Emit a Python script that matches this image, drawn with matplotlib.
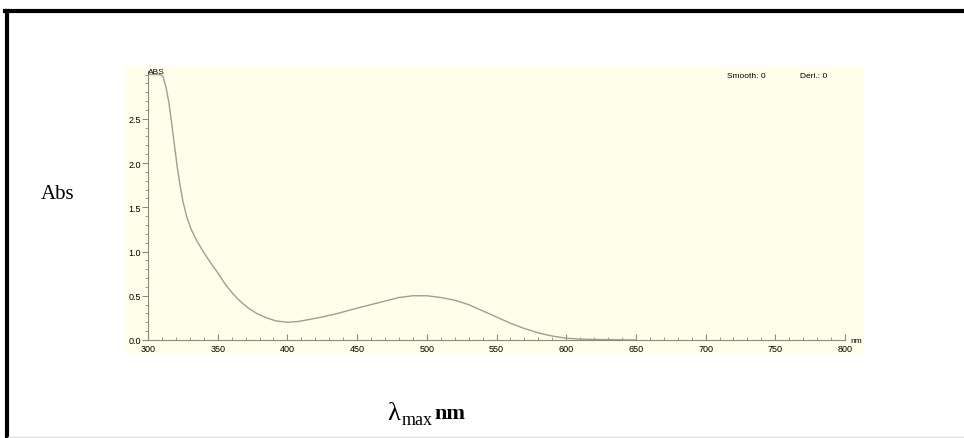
import matplotlib.pyplot as plt
from matplotlib.patches import Rectangle
from matplotlib.lines import Line2D
from matplotlib.ticker import MultipleLocator

# spectrum
wavelength = [300, 305, 309, 311, 313, 315, 317, 319, 321, 323, 325, 328, 331,
              335, 340, 345, 350, 355, 361, 366, 372, 378, 385, 392, 400, 408,
              415, 425, 436, 450, 460, 470, 480, 490, 500, 510, 520, 530, 540,
              550, 560, 570, 580, 590, 600, 610, 625, 650]
absorbance = [3.0, 3.0, 3.0, 2.97, 2.85, 2.68, 2.45, 2.2, 1.95, 1.75, 1.57,
              1.38, 1.25, 1.12, 0.99, 0.87, 0.76, 0.64, 0.52, 0.44, 0.36, 0.3,
              0.25, 0.215, 0.2, 0.21, 0.23, 0.26, 0.3, 0.36, 0.4, 0.44, 0.48,
              0.5, 0.5, 0.48, 0.45, 0.4, 0.33, 0.26, 0.19, 0.13, 0.08, 0.045,
              0.02, 0.01, 0.005, 0.0]
x_ticks = [300, 350, 400, 450, 500, 550, 600, 650, 700, 750, 800]
y_ticks = [0.0, 0.5, 1.0, 1.5, 2.0, 2.5]

W, H = 964, 439
fig = plt.figure(figsize=(W / 100, H / 100), dpi=100)


def fx(px):
    return px / W


def fy(py):
    return 1 - py / H


# outer frame (open at right/bottom like the cropped original)
fig.add_artist(Line2D([fx(6.5), fx(6.5)], [fy(12), fy(439)], color="black", lw=3,
                      transform=fig.transFigure))
fig.add_artist(Line2D([fx(5), fx(964)], [fy(12), fy(12)], color="black", lw=3,
                      transform=fig.transFigure))
fig.add_artist(Line2D([fx(8), fx(964)], [fy(437.5), fy(437.5)], color="#dddddd",
                      lw=1, transform=fig.transFigure))

# pale yellow instrument background
fig.add_artist(Rectangle((fx(126), fy(355)), fx(864 - 126), (355 - 68) / H,
                         facecolor="#fffeea", edgecolor="none",
                         transform=fig.transFigure, zorder=0))

ax = fig.add_axes([fx(148), fy(341), fx(845 - 148), (341 - 72) / H])
ax.patch.set_alpha(0)
ax.plot(wavelength, absorbance, color="#a09e94", lw=1.0)
ax.set_xlim(300, 800)
ax.set_ylim(0, 3.04)

for s in ["top", "right"]:
    ax.spines[s].set_visible(False)
for s in ["left", "bottom"]:
    ax.spines[s].set_color("#8a8a80")
    ax.spines[s].set_linewidth(0.8)

ax.set_xticks(x_ticks)
ax.set_yticks(y_ticks)
ax.set_xticklabels([str(v) for v in x_ticks])
ax.set_yticklabels([f"{v:.1f}" for v in y_ticks])
ax.xaxis.set_minor_locator(MultipleLocator(10))
ax.yaxis.set_minor_locator(MultipleLocator(0.1))
ax.tick_params(axis="x", which="major", direction="in", length=4, color="#8a8a80",
               labelsize=6.5, pad=3)
ax.tick_params(axis="x", which="minor", direction="in", length=2, color="#8a8a80")
ax.tick_params(axis="y", which="major", direction="out", length=4, color="#8a8a80",
               labelsize=6.5, pad=1)
ax.tick_params(axis="y", which="minor", direction="out", length=2, color="#8a8a80")
for lab in ax.get_xticklabels() + ax.get_yticklabels():
    lab.set_family("Liberation Sans")

small = dict(family="Liberation Sans", fontsize=6, color="black")
fig.text(fx(148), fy(73), "ABS", ha="left", va="center", **small)
fig.text(fx(727), fy(76), "Smooth: 0", ha="left", va="center", **small)
fig.text(fx(800), fy(76), "Deri.: 0", ha="left", va="center", **small)
fig.text(fx(850), fy(342), "nm", ha="left", va="center", **small)

serif = "Liberation Serif"
fig.text(fx(41), fy(195), "Abs", family=serif, fontsize=15, ha="left", va="center")
fig.text(fx(387), fy(414), "λ", family=serif, fontsize=19, ha="left",
         va="center")
fig.text(fx(402), fy(421), "max", family=serif, fontsize=13, ha="left",
         va="center")
fig.text(fx(434), fy(414), "nm", family=serif, fontsize=16, weight="bold",
         ha="left", va="center")

fig.savefig("out.png", dpi=100)
